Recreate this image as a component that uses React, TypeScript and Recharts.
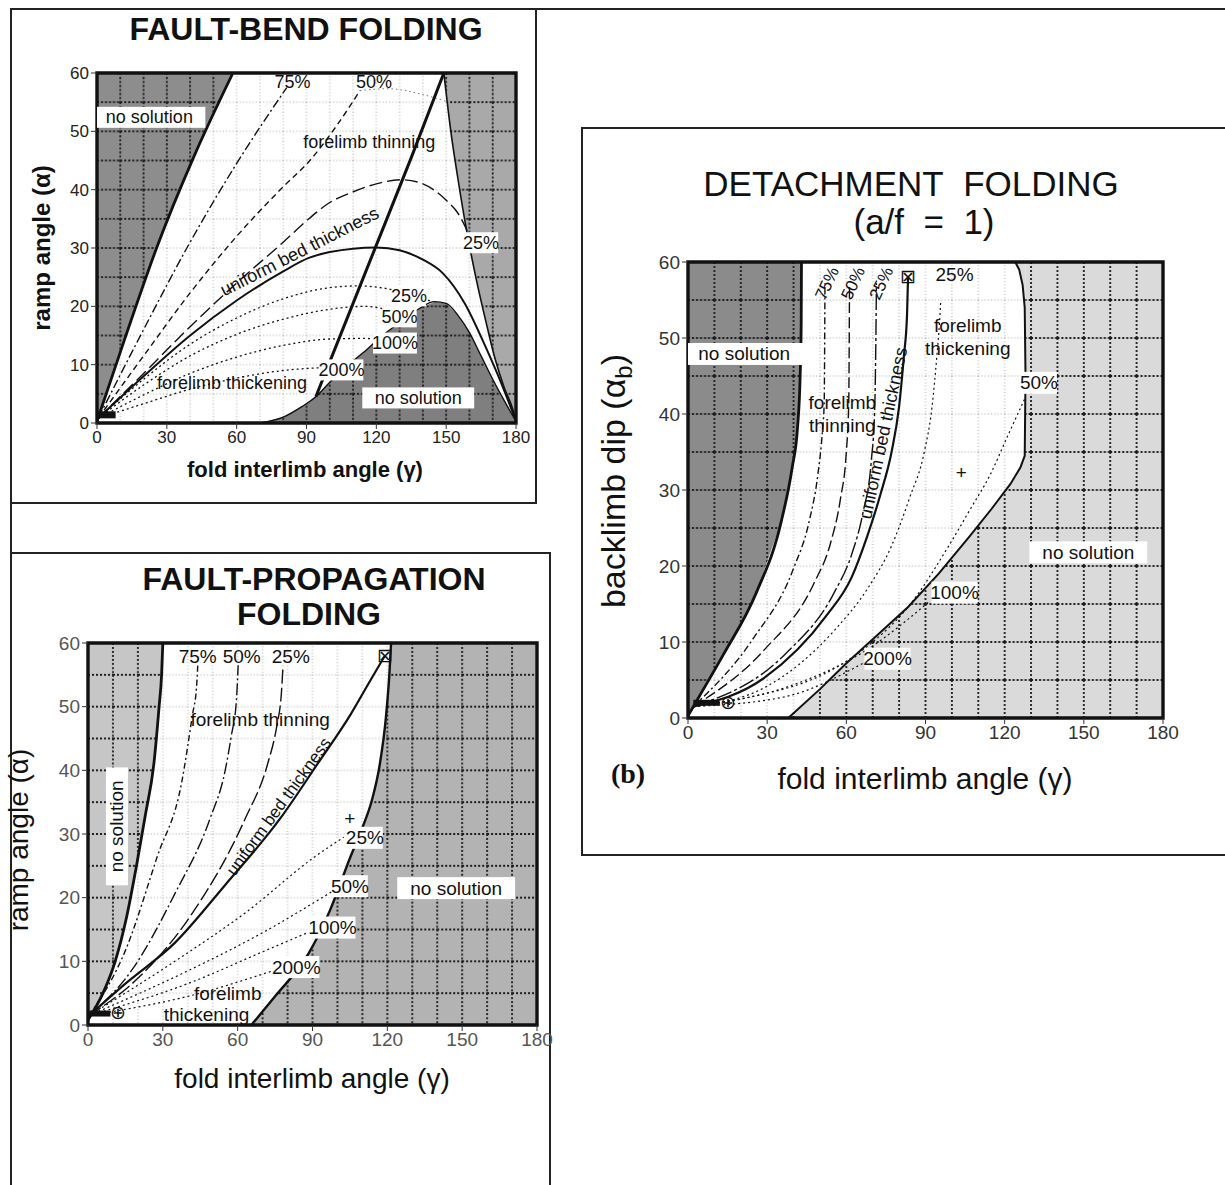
import React from "react";
import {
  ComposedChart, Line, Area, Scatter,
  XAxis, YAxis, CartesianGrid, ReferenceArea,
} from "recharts";

type Pt = [number, number];
type Note = { x: number; y: number; text: string; box?: boolean; rot?: number; size?: number };

const X_TICKS = [0, 30, 60, 90, 120, 150, 180];
const Y_TICKS = [0, 10, 20, 30, 40, 50, 60];

// ---------- fault-bend folding ----------
const FB_LEFT_EDGE: Pt[] = [[0, 0.3], [12, 14.5], [25.6, 30], [42, 46], [58.4, 60]];
const FB_RIGHT_EDGE: Pt[] = [[149, 60], [152, 50], [155, 42], [159, 32.5], [163, 24.5], [167, 17.5], [171, 11], [175, 6], [178.5, 2.5], [180, 0.3]];
const FB_FLOOR: Pt[] = [[70, 0], [80, 1], [88, 2.8], [94, 4.5], [100, 7], [108, 10], [115.7, 12.5], [122, 14.8], [130, 17.2], [138, 19.5], [145, 20.8], [150, 20.5], [155, 18.5], [160, 15.5], [165, 11.5], [170, 7.5], [175, 3.8], [180, 0.3]];
const FB_BACK_EDGE: Pt[] = [[94, 4.5], [105, 15.5], [120, 30.5], [135, 45.5], [149, 60]];
const FB_THIN_75: Pt[] = [[0.5, 0.8], [20, 16], [40, 31], [60, 44.5], [81.5, 57.5]];
const FB_THIN_50: Pt[] = [[0.5, 0.8], [20, 11.5], [40, 22.3], [60, 32], [80, 40.5], [91, 44.8], [103, 51], [113, 57]];
const FB_THIN_50_TAIL: Pt[] = [[113, 57], [125, 57.3], [140, 56.3], [151, 55]];
const FB_THIN_25: Pt[] = [[0.5, 0.8], [20, 8.5], [40, 16.5], [60, 24], [80, 31], [91, 35], [100, 37.8], [108.6, 39.4], [120, 41], [131, 41.7], [140, 41], [150, 38.2], [155, 36], [159, 33]];
const FB_UNIFORM: Pt[] = [[0.5, 0.8], [20, 8], [40, 15], [60, 21], [80, 26], [91, 28.3], [100, 29.3], [120, 30.1], [130, 29.6], [140, 28], [148.5, 25.7], [158, 20.5], [167, 13], [174, 6.5], [180, 0.3]];
const FB_THICK_25: Pt[] = [[0.5, 0.8], [20, 7.5], [40, 13.5], [60, 18], [80, 21.3], [100, 23.2], [112, 23.5], [125, 23], [135, 22], [144, 20.8]];
const FB_THICK_50: Pt[] = [[0.5, 0.8], [20, 6.5], [40, 11.5], [60, 15.2], [80, 17.8], [100, 19.5], [115, 20], [126, 19.3]];
const FB_THICK_100: Pt[] = [[0.5, 0.8], [20, 4.8], [40, 8.5], [60, 11.3], [80, 13.3], [100, 14.4], [115, 14.5], [122, 14.2]];
const FB_THICK_200: Pt[] = [[0.5, 0.8], [20, 3.3], [40, 5.8], [60, 7.7], [80, 9], [97, 9.5]];
const FB_KNOT: Pt[] = [[0.5, 1.4], [8, 1.4]];
const FB_NOTES: Note[] = [
  { x: 22.5, y: 52.4, text: "no solution", box: true },
  { x: 84, y: 58.4, text: "75%" },
  { x: 119, y: 58.4, text: "50%" },
  { x: 117, y: 48.2, text: "forelimb thinning" },
  { x: 165, y: 30.9, text: "25%", box: true },
  { x: 87, y: 29.4, text: "uniform bed thickness", rot: -27 },
  { x: 134, y: 21.8, text: "25%", box: true },
  { x: 130, y: 18.2, text: "50%", box: true },
  { x: 128, y: 13.7, text: "100%", box: true },
  { x: 105, y: 9.1, text: "200%", box: true },
  { x: 58, y: 6.9, text: "forelimb thickening" },
  { x: 138, y: 4.3, text: "no solution", box: true },
];

// ---------- fault-propagation folding ----------
const FP_LEFT_EDGE: Pt[] = [[0, 0.8], [6, 5], [10.9, 10], [15.5, 17], [19.3, 24.7], [23, 33], [26.4, 41], [28.5, 50], [29.5, 55], [30, 60]];
const FP_RIGHT_EDGE: Pt[] = [[65.5, 0], [75, 4.5], [88.4, 11.2], [97, 18], [105.3, 26.5], [110, 31], [113.8, 35.3], [117, 41], [119.4, 48.2], [120.8, 55], [121.5, 60]];
const FP_UNIFORM: Pt[] = [[0.5, 1.5], [15, 6.5], [34.8, 12.9], [55, 22], [77, 32.4], [92, 41], [105.3, 48.8], [113, 54], [119, 58]];
const FP_THIN_75: Pt[] = [[0.5, 1.5], [15.1, 11.8], [27.8, 26.5], [37.6, 38.2], [41.9, 48.8], [43.5, 53], [44, 56.5]];
const FP_THIN_50: Pt[] = [[0.5, 1.5], [17.9, 8.8], [34.8, 20.6], [48.9, 32.4], [55, 40], [57.4, 45.3], [59.5, 51], [60.2, 56.5]];
const FP_THIN_25: Pt[] = [[0.5, 1.5], [20.7, 7.6], [41.9, 17.6], [63, 32.4], [72, 41], [75.7, 47], [77.5, 52], [78.2, 56.5]];
const FP_THICK_25: Pt[] = [[0.5, 1.5], [34.8, 10], [63, 17.6], [91.2, 26.5], [102.5, 29.5]];
const FP_THICK_50: Pt[] = [[0.5, 1.5], [40, 8.5], [70, 14.5], [98, 21]];
const FP_THICK_100: Pt[] = [[0.5, 1.5], [40, 6.5], [70, 11.5], [88, 14.5]];
const FP_THICK_200: Pt[] = [[0.5, 1.5], [40, 4.5], [74, 8.5]];
const FP_KNOT: Pt[] = [[0.5, 1.8], [9, 1.8]];
const FP_NOTES: Note[] = [
  { x: 44, y: 57.9, text: "75%" },
  { x: 61.6, y: 57.9, text: "50%" },
  { x: 81.3, y: 57.9, text: "25%" },
  { x: 69, y: 48, text: "forelimb thinning" },
  { x: 76.5, y: 34.3, text: "uniform bed thickness", rot: -54, size: 17 },
  { x: 11.6, y: 31.2, text: "no solution", box: true, rot: -90 },
  { x: 147.6, y: 21.5, text: "no solution", box: true },
  { x: 111, y: 29.4, text: "25%", box: true },
  { x: 105, y: 21.8, text: "50%", box: true },
  { x: 98, y: 15.3, text: "100%", box: true },
  { x: 83.5, y: 9.1, text: "200%", box: true },
  { x: 56, y: 4.9, text: "forelimb" },
  { x: 47.5, y: 1.6, text: "thickening" },
  { x: 105, y: 32.4, text: "+" },
  { x: 119, y: 58, text: "⊠" },
  { x: 12, y: 1.9, text: "⊕" },
];

// ---------- detachment folding ----------
const DF_LEFT_EDGE: Pt[] = [[0, 0.3], [4.2, 2.8], [13.5, 8.4], [25.9, 16.5], [35.3, 25.8], [39.5, 33], [41.5, 38.2], [42.5, 45], [42.9, 52], [43, 60]];
const DF_RIGHT_LOW: Pt[] = [[38, 0], [50, 3.8], [60, 7.2], [72, 11], [83.4, 14.6], [95, 19], [106.7, 23.9], [115, 27.5], [122.2, 30.8], [126, 33], [127.6, 34.5]];
const DF_RIGHT_CAP: Pt[] = [[124, 60], [125.5, 59], [126.8, 57], [127.6, 54], [127.9, 45]];
const DF_THIN_75: Pt[] = [[2, 1.5], [24.4, 10.3], [39.9, 19.6], [46, 26], [49.2, 32], [51, 38], [51.6, 41.3], [51.8, 50], [51.9, 57.2]];
const DF_THIN_50: Pt[] = [[2, 1.5], [29, 9], [47.7, 17.7], [54, 23], [57.8, 28.9], [60, 35], [60.9, 41.3], [61.1, 50], [61.2, 57.2]];
const DF_THIN_25: Pt[] = [[2, 1.5], [36.8, 8.4], [55.4, 16.5], [62, 21.5], [66.3, 27], [69.5, 34], [70.7, 40.1], [71.2, 50], [71.4, 57.2]];
const DF_UNIFORM: Pt[] = [[2, 1.5], [29, 5.3], [52.3, 13.4], [62, 18.5], [67.9, 23.9], [73, 29.5], [77.2, 35.1], [80, 41], [81.8, 47.6], [83, 53], [83.4, 58.1]];
const DF_THICK_25: Pt[] = [[2, 1.5], [29, 4], [55.4, 11.5], [68, 17], [77.2, 22.7], [84, 29], [89.6, 35.1], [92.5, 41], [94.3, 47.6], [95.3, 52], [95.8, 55]];
const DF_THICK_50: Pt[] = [[2, 1.5], [21.3, 2.6], [55.4, 6.5], [70, 10], [83.4, 14.6], [98.9, 22.7], [107, 27.5], [114.5, 32], [121, 37], [127.6, 42]];
const DF_THICK_100: Pt[] = [[2, 1.5], [36.8, 4], [67.9, 9], [91, 15.2]];
const DF_THICK_200: Pt[] = [[2, 1.5], [36.8, 2.8], [66.3, 7.2]];
const DF_KNOT: Pt[] = [[2, 2], [12, 2]];
const DF_NOTES: Note[] = [
  { x: 52.8, y: 57.2, text: "75%", rot: -65, size: 17 },
  { x: 62.6, y: 57.2, text: "50%", rot: -65, size: 17 },
  { x: 73.3, y: 57.2, text: "25%", rot: -65, size: 17 },
  { x: 101, y: 58.3, text: "25%" },
  { x: 21.3, y: 47.9, text: "no solution", box: true },
  { x: 58.5, y: 41.5, text: "forelimb" },
  { x: 58.5, y: 38.5, text: "thinning" },
  { x: 74, y: 37.5, text: "uniform bed thickness", rot: -78, size: 18 },
  { x: 106, y: 51.6, text: "forelimb" },
  { x: 106, y: 48.6, text: "thickening" },
  { x: 133, y: 44.1, text: "50%", box: true },
  { x: 103.6, y: 32.3, text: "+" },
  { x: 151.7, y: 21.8, text: "no solution", box: true },
  { x: 101, y: 16.5, text: "100%", box: true },
  { x: 75.6, y: 7.8, text: "200%", box: true },
  { x: 83.4, y: 58.1, text: "⊠" },
  { x: 15, y: 2, text: "⊕" },
];

const FONT = '"Liberation Sans", Arial, Helvetica, sans-serif';

const xy = (pts: Pt[]) => pts.map(([x, y]) => ({ x, y }));
const above = (pts: Pt[]) => pts.map(([x, y]) => ({ x, band: [y, 60] }));
const below = (pts: Pt[]) => pts.map(([x, y]) => ({ x, band: [0, y] }));
const fullTo = (x0: number, x1: number) => [{ x: x0, band: [0, 60] }, { x: x1, band: [0, 60] }];

type Curve = { pts: Pt[]; w: number; dash?: string; color?: string; type?: "monotone" | "linear" };
type Region = { data: { x: number; band: number[] }[]; fill: string };

const SOLID_THICK = 2.8;

const FB_REGIONS: Region[] = [
  { data: above(FB_LEFT_EDGE), fill: "#8d8d8d" },
  { data: above(FB_RIGHT_EDGE), fill: "#a9a9a9" },
  { data: below(FB_FLOOR), fill: "#7f7f7f" },
];
const FB_CURVES: Curve[] = [
  { pts: FB_FLOOR, w: 1.4 },
  { pts: FB_THICK_200, w: 1.3, dash: "2 3" },
  { pts: FB_THICK_100, w: 1.3, dash: "2 3" },
  { pts: FB_THICK_50, w: 1.3, dash: "2 3" },
  { pts: FB_THICK_25, w: 1.3, dash: "2 3" },
  { pts: FB_UNIFORM, w: 2 },
  { pts: FB_THIN_25, w: 1.4, dash: "13 5" },
  { pts: FB_THIN_50, w: 1.4, dash: "6 4" },
  { pts: FB_THIN_50_TAIL, w: 1, dash: "1.5 3", color: "#777" },
  { pts: FB_THIN_75, w: 1.4, dash: "9 3 2 3" },
  { pts: FB_LEFT_EDGE, w: SOLID_THICK },
  { pts: FB_RIGHT_EDGE, w: 1.6 },
  { pts: FB_BACK_EDGE, w: 3 },
  { pts: FB_KNOT, w: 7, type: "linear" },
];

const FP_REGIONS: Region[] = [
  { data: above(FP_LEFT_EDGE), fill: "#c6c6c6" },
  { data: [...below(FP_RIGHT_EDGE), ...fullTo(121.6, 180)], fill: "#b3b3b3" },
];
const FP_CURVES: Curve[] = [
  { pts: FP_THICK_200, w: 1.2, dash: "2 3" },
  { pts: FP_THICK_100, w: 1.2, dash: "2 3" },
  { pts: FP_THICK_50, w: 1.2, dash: "2 3" },
  { pts: FP_THICK_25, w: 1.2, dash: "2 3" },
  { pts: FP_THIN_75, w: 1.4, dash: "6 3 2 3" },
  { pts: FP_THIN_50, w: 1.4, dash: "12 3 2 3" },
  { pts: FP_THIN_25, w: 1.4, dash: "14 4" },
  { pts: FP_UNIFORM, w: 2.2 },
  { pts: FP_LEFT_EDGE, w: SOLID_THICK },
  { pts: FP_RIGHT_EDGE, w: 2.4 },
  { pts: FP_KNOT, w: 6, type: "linear" },
];

const DF_REGIONS: Region[] = [
  { data: above(DF_LEFT_EDGE), fill: "#8b8b8b" },
  { data: [...below(DF_RIGHT_LOW), ...fullTo(127.9, 180)], fill: "#dadada" },
  { data: above(DF_RIGHT_CAP), fill: "#dadada" },
];
const DF_CURVES: Curve[] = [
  { pts: DF_THICK_200, w: 1.2, dash: "2 3" },
  { pts: DF_THICK_100, w: 1.2, dash: "2 3" },
  { pts: DF_THICK_50, w: 1.2, dash: "2 3" },
  { pts: DF_THICK_25, w: 1.2, dash: "2 3" },
  { pts: DF_THIN_75, w: 1.4, dash: "7 3 2 3" },
  { pts: DF_THIN_50, w: 1.4, dash: "11 4" },
  { pts: DF_THIN_25, w: 1.4, dash: "16 3 3 3" },
  { pts: DF_UNIFORM, w: 2.2 },
  { pts: DF_LEFT_EDGE, w: SOLID_THICK },
  { pts: [...DF_RIGHT_LOW, ...DF_RIGHT_CAP.slice().reverse()], w: 2, type: "linear" },
  { pts: DF_KNOT, w: 6, type: "linear" },
];

const GridPattern = ({ id, x, y, w, h, bg, stroke, sw, dash }: any) => (
  <pattern id={id} patternUnits="userSpaceOnUse" x={x} y={y} width={w} height={h}>
    <rect width={w} height={h} fill={bg} />
    <path
      d={`M0,0V${h}M${w},0V${h}M0,0H${w}M0,${h}H${w}`}
      stroke={stroke}
      strokeWidth={sw}
      strokeDasharray={dash}
      fill="none"
    />
  </pattern>
);

const noteShape = (base: number) => (p: any) => {
  const d: Note = p.payload || {};
  const { cx, cy } = p;
  if (cx == null || cy == null || !d.text) return <g />;
  const fs = d.size || base;
  const w = d.text.length * fs * 0.54 + 5;
  const h = fs + 3;
  return (
    <g transform={`rotate(${d.rot || 0} ${cx} ${cy})`}>
      {d.box && <rect x={cx - w / 2} y={cy - h / 2} width={w} height={h} fill="#fff" />}
      <text x={cx} y={cy} textAnchor="middle" dominantBaseline="central" fontSize={fs} fill="#111" fontFamily={FONT}>
        {d.text}
      </text>
    </g>
  );
};

type PlotProps = {
  id: string;
  left: number; top: number; plotW: number; plotH: number; yw: number;
  tickSize: number; tickColor: string; noteSize: number;
  regions: Region[]; curves: Curve[]; notes: Note[];
};

const Plot = ({ id, left, top, plotW, plotH, yw, tickSize, tickColor, noteSize, regions, curves, notes }: PlotProps) => {
  const margin = { top: 18, right: 24, bottom: 0, left: 0 };
  const W = yw + plotW + margin.right;
  const H = margin.top + plotH + 36;
  const cw = plotW / 18;
  const ch = plotH / 12;
  const tick = { fontSize: tickSize, fill: tickColor, fontFamily: FONT };
  return (
    <div style={{ position: "absolute", left: left - yw, top: top - margin.top }}>
      <ComposedChart width={W} height={H} margin={margin}>
        <defs>
          <GridPattern id={`${id}-light`} x={yw} y={margin.top} w={cw} h={ch} bg="#fff" stroke="#a8a8a8" sw={1} dash="1 2.2" />
          {regions.map((r, i) => (
            <GridPattern key={i} id={`${id}-r${i}`} x={yw} y={margin.top} w={cw} h={ch} bg={r.fill} stroke="#1c1c1c" sw={1.8} dash="2 2" />
          ))}
        </defs>
        <CartesianGrid horizontal={false} vertical={false} fill={`url(#${id}-light)`} />
        <XAxis
          type="number" dataKey="x" domain={[0, 180]} ticks={X_TICKS} allowDataOverflow height={36}
          axisLine={false} tickLine={{ stroke: "#333" }} tickSize={6} tick={tick} interval={0}
        />
        <YAxis
          type="number" domain={[0, 60]} ticks={Y_TICKS} allowDataOverflow width={yw}
          axisLine={false} tickLine={{ stroke: "#333" }} tickSize={6} tick={tick} interval={0}
        />
        {regions.map((r, i) => (
          <Area
            key={`r${i}`}
            data={r.data}
            dataKey="band"
            type="linear"
            stroke="none"
            fill={`url(#${id}-r${i})`}
            fillOpacity={1}
            dot={false}
            activeDot={false}
            isAnimationActive={false}
          />
        ))}
        {curves.map((c, i) => (
          <Line
            key={`c${i}`}
            data={xy(c.pts)}
            dataKey="y"
            type={c.type || "monotone"}
            stroke={c.color || "#111"}
            strokeWidth={c.w}
            strokeDasharray={c.dash}
            dot={false}
            activeDot={false}
            isAnimationActive={false}
          />
        ))}
        <ReferenceArea x1={0} x2={180} y1={0} y2={60} fill="none" stroke="#111" strokeWidth={3.4} />
        <Scatter data={notes} dataKey="y" shape={noteShape(noteSize)} isAnimationActive={false} />
      </ComposedChart>
    </div>
  );
};

const Txt = ({ cx, cy, size, weight = 400, rot = 0, family = FONT, children }: any) => (
  <div
    style={{
      position: "absolute", left: cx, top: cy,
      transform: `translate(-50%, -50%) rotate(${rot}deg)`,
      fontSize: size, fontWeight: weight, fontFamily: family,
      whiteSpace: "nowrap", lineHeight: 1, color: "#111",
    }}
  >
    {children}
  </div>
);

const Box = ({ l, t, w, h }: any) => (
  <div style={{ position: "absolute", left: l, top: t, width: w, height: h, border: "2px solid #222", boxSizing: "border-box" }} />
);

export default function App() {
  return (
    <div style={{ position: "absolute", left: 0, top: 0, width: 1225, height: 1185, background: "#fff", overflow: "hidden", fontFamily: FONT }}>
      {/* frames */}
      <div style={{ position: "absolute", left: 10, top: 8, width: 1215, borderTop: "2px solid #222" }} />
      <div style={{ position: "absolute", left: 10, top: 8, height: 1177, borderLeft: "2px solid #222" }} />
      <Box l={10} t={8} w={527} h={496} />
      <Box l={10} t={552} w={541} h={660} />
      <Box l={581} t={127} w={660} h={729} />

      {/* fault-bend folding */}
      <Txt cx={306} cy={29} size={32} weight={600}>FAULT-BEND FOLDING</Txt>
      <Plot id="fb" left={97} top={73} plotW={419} plotH={350} yw={57}
        tickSize={17} tickColor="#222" noteSize={18}
        regions={FB_REGIONS} curves={FB_CURVES} notes={FB_NOTES} />
      <Txt cx={42} cy={248} size={24} weight={600} rot={-90}>ramp angle (α)</Txt>
      <Txt cx={305} cy={470} size={22} weight={600}>fold interlimb angle (γ)</Txt>

      {/* fault-propagation folding */}
      <Txt cx={314} cy={579} size={32} weight={600}>FAULT-PROPAGATION</Txt>
      <Txt cx={309} cy={614} size={32} weight={600}>FOLDING</Txt>
      <Plot id="fp" left={88} top={643} plotW={449} plotH={382} yw={58}
        tickSize={19} tickColor="#555" noteSize={19}
        regions={FP_REGIONS} curves={FP_CURVES} notes={FP_NOTES} />
      <Txt cx={19} cy={840} size={28} weight={500} rot={-90}>ramp angle (α)</Txt>
      <Txt cx={312} cy={1079} size={28} weight={500}>fold interlimb angle (γ)</Txt>

      {/* detachment folding */}
      <Txt cx={911} cy={183} size={35}>DETACHMENT&nbsp;&nbsp;FOLDING</Txt>
      <Txt cx={924} cy={221} size={35}>(a/f&nbsp;&nbsp;=&nbsp;&nbsp;1)</Txt>
      <Plot id="df" left={688} top={262} plotW={475} plotH={456} yw={62}
        tickSize={19} tickColor="#333" noteSize={19}
        regions={DF_REGIONS} curves={DF_CURVES} notes={DF_NOTES} />
      <Txt cx={616} cy={481} size={34} rot={-90}>backlimb dip (α<sub style={{ fontSize: 24 }}>b</sub>)</Txt>
      <Txt cx={925} cy={779} size={30}>fold interlimb angle (γ)</Txt>
      <Txt cx={628} cy={774} size={28} weight={700} family='"Liberation Serif", "DejaVu Serif", serif'>(b)</Txt>
    </div>
  );
}
